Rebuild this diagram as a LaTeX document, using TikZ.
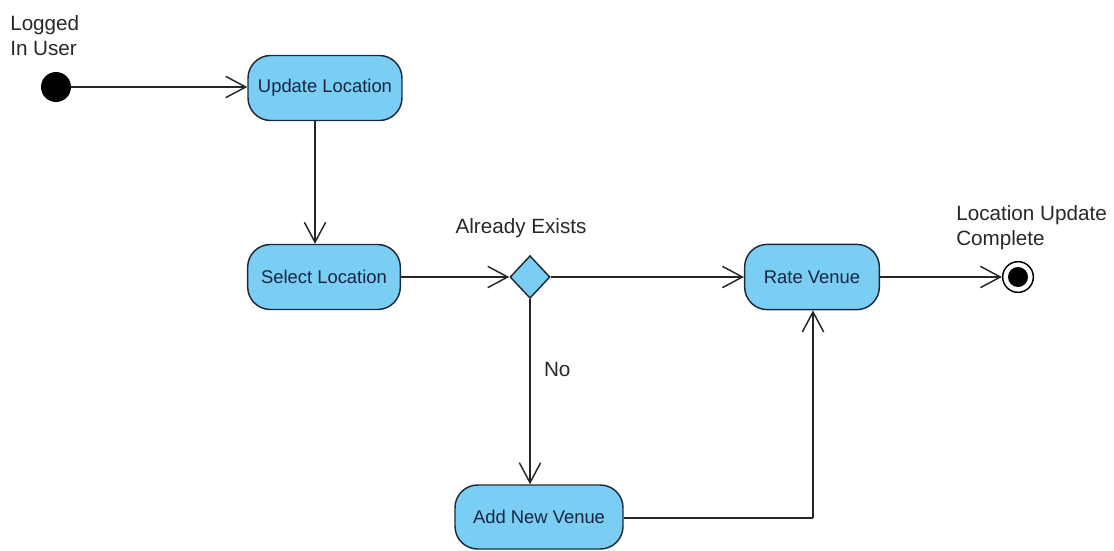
\documentclass[tikz,border=0pt]{standalone}
\usepackage{fontspec}
\setmainfont{Liberation Sans}
\usetikzlibrary{arrows.meta,shapes.geometric}
\definecolor{actfill}{RGB}{122,206,244}
\definecolor{actborder}{RGB}{30,42,58}
\definecolor{acttext}{RGB}{22,36,66}
\definecolor{labeltext}{RGB}{40,40,40}
\tikzset{
  activity/.style={draw=actborder, fill=actfill, line width=1.1pt, rounded corners=17pt,
    inner sep=0pt, text=acttext, font=\fontsize{13.8pt}{16pt}\selectfont},
  decision/.style={diamond, draw=actborder, fill=actfill, line width=1.1pt, inner sep=0pt,
    minimum width=30pt, minimum height=32pt},
  initial/.style={circle, fill=black, inner sep=0pt, minimum size=22.5pt},
  finalouter/.style={circle, draw=black, fill=white, line width=1.1pt, inner sep=0pt, minimum size=23pt},
  finalinner/.style={circle, fill=black, inner sep=0pt, minimum size=15pt},
  caption/.style={text=labeltext, inner sep=0pt, align=left,
    font=\fontsize{15.5pt}{19pt}\selectfont},
  flow/.style={draw=black!85, line width=1.1pt,
    -{Straight Barb[length=15pt,width=16pt,line width=1.1pt]}},
  plain/.style={draw=black!85, line width=1.1pt}
}
\begin{document}
\begin{tikzpicture}[x=0.75pt,y=-0.75pt]
  \useasboundingbox (0,0) rectangle (1114,550);

  % start and end points
  \node[initial] (start) at (56,87) {};
  \node[caption, anchor=north west] (startlbl) at (10,15) {Logged\\In User};

  \node[finalouter] (final) at (1018,277) {};
  \node[finalinner] (finaldot) at (1018,277) {};
  \node[caption, anchor=north west] (finallbl) at (956,205) {Location Update\\Complete};

  % activities
  \node[activity, minimum width=115.5pt, minimum height=48.75pt] (update) at (325,88) {Update Location};
  \node[activity, minimum width=114.5pt, minimum height=48.75pt] (select) at (324,277) {Select Location};
  \node[activity, minimum width=101pt, minimum height=49pt] (rate) at (812,277) {Rate Venue};
  \node[activity, minimum width=126pt, minimum height=48pt] (add) at (539,517) {Add New Venue};

  % decision
  \node[decision] (exists) at (530,277) {};
  \node[caption, anchor=south] (existslbl) at (521,238) {Already Exists};

  % routing helpers
  \coordinate (col) at (315,0);
  \coordinate (bend) at (813,518);

  % flows
  \draw[flow] (start) -- (update.west |- start);
  \draw[flow] (update.south -| col) -- (select.north -| col);
  \draw[flow] (select.east) -- (exists.west);
  \draw[flow] (exists.east) -- (rate.west);
  \draw[flow] (exists.south) -- node[caption, right=10pt, pos=0.38] (nolbl) {No} (add.north -| exists);
  \draw[plain] (add.east |- bend) -- (bend);
  \draw[flow] (bend) -- (rate.south -| bend);
  \draw[flow] (rate.east) -- (final.west);
\end{tikzpicture}
\end{document}
